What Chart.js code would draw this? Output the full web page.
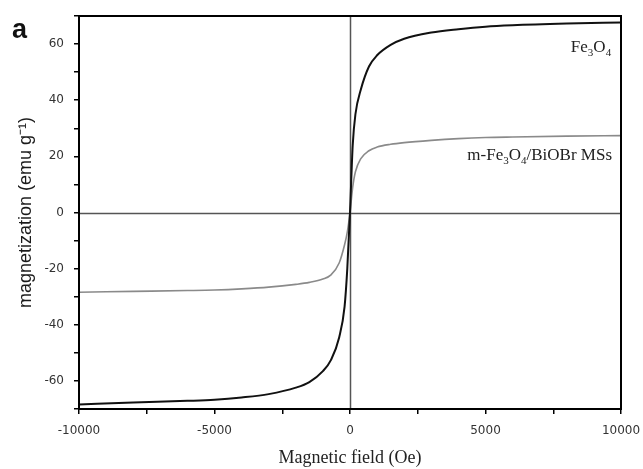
<!DOCTYPE html>
<html>
<head>
<meta charset="utf-8">
<script src="https://cdn.jsdelivr.net/npm/chart.js@4"></script>
<style>
  html, body { margin: 0; padding: 0; background: #fff; }
  #wrap { width: 643px; height: 469px; position: relative; }
</style>
</head>
<body>
<div id="wrap"><canvas id="loop"></canvas></div>
<script>
// applied field (Oe)
const field = [-10000, -8000, -6000, -5000, -4000, -3000, -2000, -1500, -1000, -700, -400, -200, -100, 0,
               100, 200, 400, 700, 1000, 1500, 2000, 3000, 4000, 5000, 6000, 8000, 10000];
// magnetization (emu/g)
const fe3o4 = [-68.4, -67.7, -67.1, -66.7, -65.9, -64.7, -62.4, -60.4, -56.5, -52.5, -44.5, -33.5, -20, 0,
               24, 35, 43.8, 52, 56, 59.7, 61.9, 64.1, 65.3, 66.2, 66.7, 67.3, 67.7];
const composite = [-28.4, -28.1, -27.8, -27.6, -27.2, -26.6, -25.6, -24.9, -23.7, -22.2, -18, -11.5, -7, 0,
                   9, 14.5, 19.2, 22, 23.3, 24.3, 24.9, 25.7, 26.3, 26.7, 26.9, 27.2, 27.4];
const xTickLabels = [-10000, -5000, 0, 5000, 10000];
const yTickLabels = [-60, -40, -20, 0, 20, 40, 60];

const serif = "'Liberation Serif', 'Times New Roman', serif";
const tickFont = { family: "'DejaVu Sans', sans-serif", size: 12 };

function pts(ys) {
  return field.map((x, i) => ({ x: x, y: ys[i] }));
}

// frame, zero lines and text labels
const extras = {
  id: "extras",
  beforeDatasetsDraw(chart) {
    const { ctx, chartArea: a, scales: { x, y } } = chart;
    ctx.save();
    ctx.strokeStyle = "#555";
    ctx.lineWidth = 1.5;
    ctx.beginPath();
    const x0 = Math.round(x.getPixelForValue(0)) + 0.5;
    const y0 = Math.round(y.getPixelForValue(0)) + 0.5;
    ctx.moveTo(x0, a.top); ctx.lineTo(x0, a.bottom);
    ctx.moveTo(a.left, y0); ctx.lineTo(a.right, y0);
    ctx.stroke();
    ctx.restore();
  },
  afterDraw(chart) {
    const { ctx, chartArea: a, scales: { x, y } } = chart;
    ctx.save();
    ctx.strokeStyle = "#000";
    ctx.lineWidth = 2;
    ctx.strokeRect(a.left, a.top, a.right - a.left, a.bottom - a.top);

    // panel letter
    ctx.fillStyle = "#111";
    ctx.font = "bold 27px 'Liberation Sans', Arial, sans-serif";
    ctx.textBaseline = "alphabetic";
    ctx.fillText("a", 12, 38);

    // series labels with subscripts
    function sub(parts, px, py) {
      let cx = px;
      parts.forEach(p => {
        ctx.font = (p.s ? "11px " : "17px ") + serif;
        ctx.fillText(p.t, cx, py + (p.s ? 4 : 0));
        cx += ctx.measureText(p.t).width;
      });
    }
    ctx.fillStyle = "#222";
    sub([{ t: "Fe" }, { t: "3", s: 1 }, { t: "O" }, { t: "4", s: 1 }],
        x.getPixelForValue(8150), y.getPixelForValue(57));
    sub([{ t: "m-Fe" }, { t: "3", s: 1 }, { t: "O" }, { t: "4", s: 1 }, { t: "/BiOBr MSs" }],
        x.getPixelForValue(4330), y.getPixelForValue(18.6));
    ctx.restore();
  }
};

new Chart(document.getElementById("loop"), {
  type: "line",
  data: {
    datasets: [{
      label: "Fe3O4",
      data: pts(fe3o4),
      borderColor: "#111",
      borderWidth: 2,
      pointRadius: 0,
      cubicInterpolationMode: "monotone"
    }, {
      label: "m-Fe3O4/BiOBr MSs",
      data: pts(composite),
      borderColor: "#8a8a8a",
      borderWidth: 1.6,
      pointRadius: 0,
      cubicInterpolationMode: "monotone"
    }]
  },
  options: {
    responsive: true,
    maintainAspectRatio: false,
    animation: false,
    layout: { padding: { top: 16, right: 22, left: 0, bottom: 0 } },
    plugins: { legend: { display: false }, tooltip: { enabled: false } },
    scales: {
      x: {
        type: "linear",
        min: -10000, max: 10000,
        afterFit(s) { s.height = 60; s.paddingLeft = 0; s.paddingRight = 0; },
        border: { display: false },
        grid: { drawOnChartArea: false, tickLength: 5, color: "#000", lineWidth: 1.5 },
        ticks: {
          stepSize: 2500,
          maxRotation: 0,
          color: "#333",
          padding: 10,
          font: tickFont,
          callback: v => xTickLabels.includes(v) ? String(v) : ""
        },
        title: {
          display: true,
          text: "Magnetic field (Oe)",
          color: "#222",
          padding: { top: 0, bottom: 0 },
          font: { family: serif, size: 18 }
        }
      },
      y: {
        min: -70, max: 70,
        afterFit(s) { s.width = 79; s.paddingTop = 0; s.paddingBottom = 0; },
        border: { display: false },
        grid: { drawOnChartArea: false, tickLength: 5, color: "#000", lineWidth: 1.5 },
        ticks: {
          stepSize: 10,
          color: "#333",
          padding: 10,
          font: tickFont,
          callback: v => yTickLabels.includes(v) ? String(v) : ""
        },
        title: {
          display: true,
          text: "magnetization (emu g\u207B\u00B9)",
          color: "#1a1a1a",
          padding: { top: 15, bottom: 0 },
          font: { family: "'Liberation Sans', Arial, sans-serif", size: 18 }
        }
      }
    }
  },
  plugins: [extras]
});
</script>
</body>
</html>
